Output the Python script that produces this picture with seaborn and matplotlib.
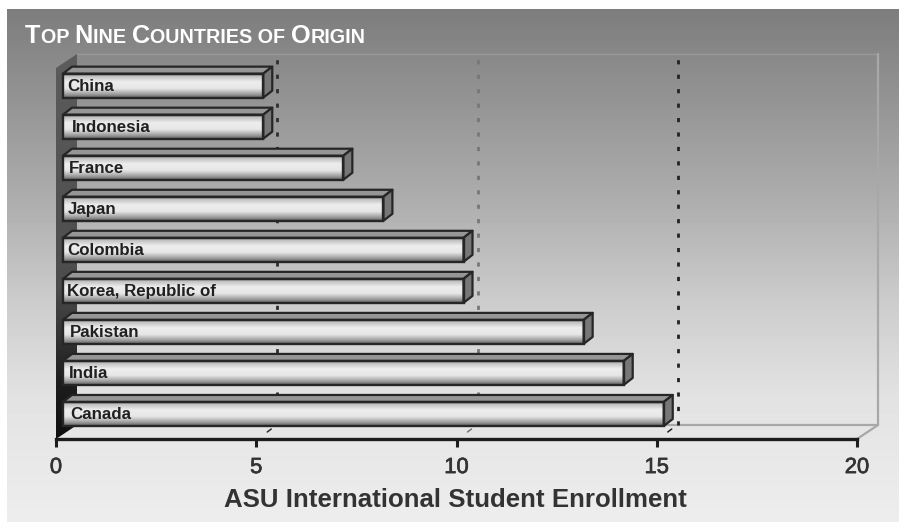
import numpy as np
import pandas as pd
import seaborn as sns
import matplotlib
matplotlib.use("Agg")
import matplotlib.pyplot as plt
import matplotlib.patheffects as pe
from matplotlib.patches import Polygon
from matplotlib.lines import Line2D
from matplotlib.transforms import Affine2D, IdentityTransform

countries = ["China", "Indonesia", "France", "Japan", "Colombia",
             "Korea, Republic of", "Pakistan", "India", "Canada"]
enrollment = [5, 5, 7, 8, 10, 10, 13, 14, 15]
x_ticks = [0, 5, 10, 15, 20]
x_title = "ASU International Student Enrollment"
title_runs = [("T", 1), ("OP ", 0), ("N", 1), ("INE ", 0), ("C", 1), ("OUNTRIES OF ", 0), ("O", 1), ("RIGIN", 0)]
label_nudge = [5, 10, 7, 6, 5, 5, 8, 7, 8]
grid_colors = ["#2e2e2e", "#777777", "#222222"]

W, H = 899, 522
sns.set_theme(style="white")
plt.rcParams["font.family"] = ["Liberation Sans", "DejaVu Sans"]
fig = plt.figure(figsize=(W / 100, H / 100), dpi=100, facecolor="white")

def Y(py):
    return H - py

# background
bg = fig.add_axes([7 / W, 0, (W - 7) / W, (H - 9) / H], zorder=-5)
rows = np.arange(9, H)
shade = np.interp(rows, [9, 60, 200, 300, 400, 522], [0.49, 0.54, 0.68, 0.80, 0.89, 0.93])
bg.imshow(shade[:, None], cmap="gray", vmin=0, vmax=1, aspect="auto")
bg.axis("off")

# axes
L, R, T, B = 56, 857, 68, 439
ax = fig.add_axes([L / W, Y(B) / H, (R - L) / W, (B - T) / H], zorder=2)
ax.patch.set_alpha(0)
df = pd.DataFrame({"country": countries, "enrollment": enrollment})
sns.barplot(data=df, y="country", x="enrollment", orient="h", color="#cccccc",
            width=0.585, saturation=1, ax=ax, zorder=4)
ax.set_xlim(0, 20)
ax.set_ylim(8.61, -0.43)
ax.set_xticks(x_ticks)
ax.set_yticks([])
ax.set_xlabel("")
ax.set_ylabel("")
for s in ["top", "right", "left"]:
    ax.spines[s].set_visible(False)
ax.spines["bottom"].set_linewidth(2.4)
ax.spines["bottom"].set_color("#1c1c1c")
ax.tick_params(axis="x", bottom=True, length=6, width=2.2, color="#1c1c1c", pad=7,
               labelsize=15.8, labelcolor="#333333")
for t in ax.get_xticklabels():
    t.set_path_effects([pe.withStroke(linewidth=0.5, foreground="#333333")])
ax.set_axisbelow(True)

fig.canvas.draw()
ident = IdentityTransform()
DX, DY = 21, 14          # depth of the chart box
BX, BY = 9, 7            # depth of each bar
SHIFT = 7                # bars start off the axis

def px(x, y):
    return ax.transData.transform((x, y))

# left wall
xb0, yb0 = px(0, 8.61)
xt0, yt0 = px(0, -0.43)
wall = Polygon([(xb0, yb0), (xt0, yt0), (xt0 + DX, yt0 + DY), (xb0 + DX, yb0 + DY)],
               closed=True, transform=ident, facecolor="none", edgecolor="none")
fig.add_artist(wall)
wall_axes = fig.add_axes([L / W, Y(B) / H, DX / W, (B - T + DY) / H], zorder=1)
wall_shade = np.interp(np.linspace(0, 1, 200), [0, 0.6, 0.85, 1], [0.36, 0.30, 0.12, 0.06])
im = wall_axes.imshow(wall_shade[:, None], cmap="gray", vmin=0, vmax=1, aspect="auto")
wall_axes.axis("off")
clip = Polygon(wall.get_xy(), closed=True, transform=ident)
im.set_clip_path(clip)

# box outline
def add_line(xs, ys, color, lw, ls="-", z=1):
    fig.add_artist(Line2D(xs, ys, transform=ident, color=color, lw=lw, ls=ls, zorder=z))

xr, yr = px(20, 8.61)
xrt, yrt = px(20, -0.43)
add_line([xt0 + DX, xrt + DX], [yt0 + DY] * 2, "#9a9a9c", 1.0)
add_line([xrt + DX] * 2, [yt0 + DY, yr + DY], "#a8a8a8", 1.6)
add_line([xb0 + DX, xr + DX], [yr + DY] * 2, "#a8a8a8", 1.6)
add_line([xr, xr + DX], [yr, yr + DY], "#a8a8a8", 1.6)

# dotted grid on the wall, with its floor stub
for tick, gc in zip(x_ticks[1:4], grid_colors):
    xg, yg = px(tick, 8.61)
    add_line([xg + DX] * 2, [yg + DY, yt0 + DY], gc, 2.0, (0, (1.5, 3.7)))
    add_line([xg + 11, xg + 15], [yg + 7, yg + 10], gc, 1.1)

# bars
shift = ax.transData + Affine2D().translate(SHIFT, 0)
front = np.interp(np.linspace(0, 1, 60), [0, 0.12, 0.35, 0.62, 0.85, 1],
                  [0.42, 0.75, 0.93, 0.90, 0.62, 0.38])
for i, (bar, value) in enumerate(zip(ax.patches, enrollment)):
    x0, y0, w, h = bar.get_x(), bar.get_y(), bar.get_width(), bar.get_height()
    ax.imshow(front[:, None], cmap="gray", vmin=0, vmax=1, aspect="auto",
              extent=(x0, x0 + w, y0 + h, y0), transform=shift, zorder=3.5, clip_on=False)
    bar.set_transform(shift)
    bar.set_facecolor("none")
    bar.set_edgecolor("#262626")
    bar.set_linewidth(1.7)
    bar.set_clip_on(False)
    bar.set_zorder(4)
    xa, ytop = px(x0, y0)
    xe, ybot = px(x0 + w, y0 + h)
    xa += SHIFT
    xe += SHIFT
    edge = dict(edgecolor="#262626", linewidth=1.6, joinstyle="round", transform=ident,
                clip_on=False, zorder=3.8)
    ax.add_patch(Polygon([(xa, ytop), (xa + BX, ytop + BY), (xe + BX, ytop + BY), (xe, ytop)],
                         facecolor="#969696", **edge))
    ax.add_patch(Polygon([(xe, ytop), (xe + BX, ytop + BY), (xe + BX, ybot + BY), (xe, ybot)],
                         facecolor="#777777", **edge))
    ax.annotate(countries[i], xy=(0, i), xytext=(6 + label_nudge[i], -0.5), textcoords="offset pixels",
                ha="left", va="center", fontsize=12.2, fontweight="bold", color="#202020",
                zorder=6, annotation_clip=False)

ax.set_xlim(0, 20)
ax.set_ylim(8.61, -0.43)

# x title
fig.text(455.5 / W, Y(500) / H, x_title, ha="center", va="center", fontsize=18.6,
         fontweight="bold", color="#333333", zorder=6)

# small-caps title
renderer = fig.canvas.get_renderer()
cursor = 25
for run, big in title_runs:
    t = fig.text(cursor / W, Y(43) / H, run.replace(" ", "\u00a0"), ha="left", va="baseline", color="white",
                 fontweight="bold", fontsize=18.2 if big else 14.2, zorder=6)
    cursor = t.get_window_extent(renderer).x1 + 0.2

fig.savefig("out.png", dpi=100, facecolor="white")
